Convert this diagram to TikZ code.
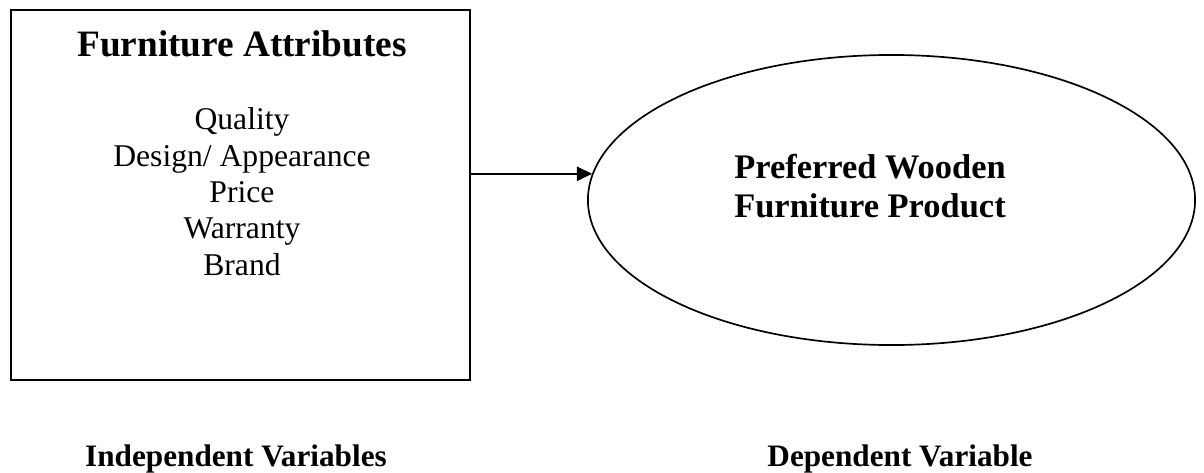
\documentclass[tikz,border=0pt]{standalone}
\usepackage{fontspec}
\setmainfont{Liberation Serif}
\usetikzlibrary{arrows.meta,shapes.geometric}
\tikzset{
  attrbox/.style={draw, rectangle, line width=1.5pt, inner sep=0pt, minimum width=11.475cm, minimum height=9.25cm},
  prodellipse/.style={draw, ellipse, line width=1.2pt, inner sep=0pt, minimum width=15.175cm, minimum height=7.25cm},
  boxtitle/.style={font=\fontsize{26.5}{30}\selectfont\bfseries, anchor=base, inner sep=0pt},
  attrlist/.style={font=\fontsize{22.5}{25.8}\selectfont, align=center, anchor=base, inner sep=0pt},
  prodtext/.style={font=\fontsize{24.5}{27.6}\selectfont\bfseries, align=center, anchor=base, inner sep=0pt},
  vartag/.style={font=\fontsize{22.2}{26}\selectfont\bfseries, anchor=base, inner sep=0pt},
  linkarrow/.style={line width=1.2pt, -{Triangle[length=3.8mm,width=3.6mm]}}
}
\begin{document}
\begin{tikzpicture}[x=0.025cm, y=-0.025cm]
			%%%%% START %%%%%
			\useasboundingbox (0,0) rectangle (1204,473);
			
			% independent side
			\node[attrbox] (attrs) at (240.5,195) {};
			\node[boxtitle] (attrtitle) at (242,57) {Furniture Attributes};
			\node[attrlist] (attritems) at (242,275) {Quality\\Design/ Appearance\\Price\\Warranty\\Brand};
			
			% dependent side
			\node[prodellipse] (product) at (891.5,200) {};
			\node[prodtext] (prodname) at (870,217) {Preferred Wooden\\Furniture Product};
			
			\draw[linkarrow] (attrs.east |- product.175.8) -- (product.175.8);
			
			% captions
			\node[vartag] (indep) at (236,466) {Independent Variables};
			\node[vartag] (dep) at (900,466) {Dependent Variable};
			%%%%% END %%%%%
\end{tikzpicture}
\end{document}
